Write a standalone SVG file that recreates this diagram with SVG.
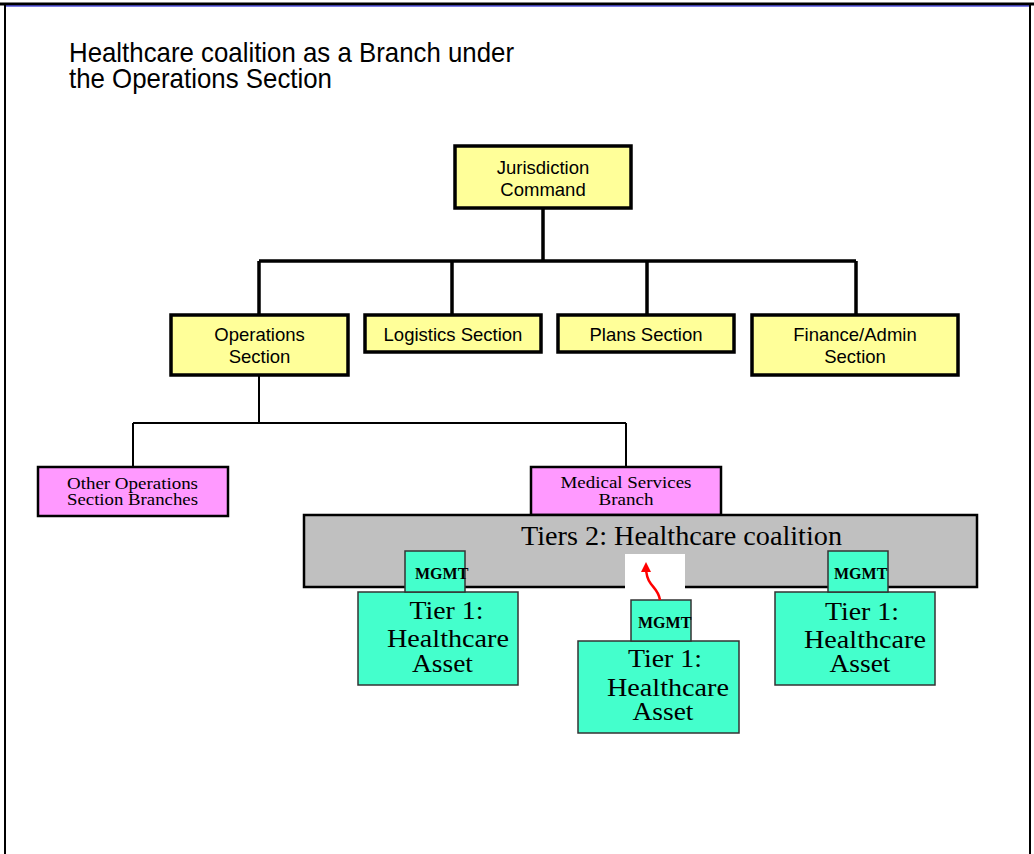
<svg xmlns="http://www.w3.org/2000/svg" width="1034" height="854" viewBox="0 0 1034 854">
  <style>
    .sans { font-family: "Liberation Sans", Arial, sans-serif; fill: #000; }
    .serif { font-family: "Liberation Serif", "Times New Roman", serif; fill: #000; }
    .yellow { fill: #FFFF99; stroke: #000; stroke-width: 3.5; }
    .pink { fill: #FF99FF; stroke: #000; stroke-width: 2.5; }
    .grey { fill: #C0C0C0; stroke: #000; stroke-width: 2.5; }
    .teal { fill: #44FFCC; stroke: #333; stroke-width: 1.5; }
    .sec { font-size: 18.5px; text-anchor: middle; }
    .br { font-size: 17px; text-anchor: middle; }
    .tier { font-size: 26px; text-anchor: middle; }
    .mgmt { font-size: 16px; font-weight: bold; }
    .thick { fill: none; stroke: #000; stroke-width: 3.5; }
    .thin { fill: none; stroke: #000; stroke-width: 2; }
  </style>
  <defs>
    <marker id="redHead" viewBox="0 0 10 10" refX="5" refY="5" markerWidth="4" markerHeight="4" orient="auto-start-reverse">
      <path d="M0,0 L10,5 L0,10 z" fill="#FF0000"/>
    </marker>
  </defs>

  <!-- page frame -->
  <rect x="0" y="0" width="1034" height="854" fill="#FFFFFF"/>
  <g id="frame">
    <line x1="0" y1="4" x2="1034" y2="4" stroke="#000" stroke-width="3"/>
    <line x1="5" y1="6" x2="1030" y2="6" stroke="#0000CC" stroke-width="1"/>
    <line x1="5" y1="4" x2="5" y2="854" stroke="#000" stroke-width="2"/>
    <line x1="1030" y1="4" x2="1030" y2="854" stroke="#000" stroke-width="2"/>
  </g>

  <!-- heading -->
  <g id="title" class="sans" font-size="28">
    <text x="69" y="62" textLength="445" lengthAdjust="spacingAndGlyphs">Healthcare coalition as a Branch under</text>
    <text x="69" y="88" textLength="263" lengthAdjust="spacingAndGlyphs">the Operations Section</text>
  </g>

  <!-- connectors -->
  <g id="connectors">
    <path class="thick" d="M543,209 V261 M259,261 H856 M259,261 V315 M452,261 V315 M647,261 V315 M856,261 V315"/>
    <path class="thin" d="M259,376 V423 M133,423 H626 M133,423 V467 M626,423 V467"/>
  </g>

  <!-- command level -->
  <g id="jurisdiction-command">
    <rect class="yellow" x="455" y="146" width="176" height="62"/>
    <text class="sans sec" x="543" y="174">Jurisdiction</text>
    <text class="sans sec" x="543" y="196">Command</text>
  </g>

  <!-- sections -->
  <g id="operations-section">
    <rect class="yellow" x="171" y="315" width="177" height="60"/>
    <text class="sans sec" x="259.5" y="341">Operations</text>
    <text class="sans sec" x="259.5" y="363">Section</text>
  </g>
  <g id="logistics-section">
    <rect class="yellow" x="365" y="315" width="176" height="37"/>
    <text class="sans sec" x="453" y="341">Logistics Section</text>
  </g>
  <g id="plans-section">
    <rect class="yellow" x="558" y="315" width="176" height="37"/>
    <text class="sans sec" x="646" y="341">Plans Section</text>
  </g>
  <g id="finance-admin-section">
    <rect class="yellow" x="752" y="315" width="206" height="60"/>
    <text class="sans sec" x="855" y="341">Finance/Admin</text>
    <text class="sans sec" x="855" y="363">Section</text>
  </g>

  <!-- branches -->
  <g id="other-operations-branches">
    <rect class="pink" x="38" y="467" width="190" height="49"/>
    <text class="serif br" x="132.5" y="489" textLength="131" lengthAdjust="spacingAndGlyphs">Other Operations</text>
    <text class="serif br" x="132.5" y="505" textLength="131" lengthAdjust="spacingAndGlyphs">Section Branches</text>
  </g>
  <g id="medical-services-branch">
    <rect class="pink" x="531" y="467" width="190" height="48"/>
    <text class="serif br" x="626" y="488" textLength="131" lengthAdjust="spacingAndGlyphs">Medical Services</text>
    <text class="serif br" x="626" y="505" textLength="55" lengthAdjust="spacingAndGlyphs">Branch</text>
  </g>

  <!-- tier 2 coalition -->
  <g id="healthcare-coalition">
    <rect class="grey" x="304" y="515" width="673" height="72"/>
    <text class="serif" x="521" y="545" font-size="27.5" textLength="321" lengthAdjust="spacingAndGlyphs">Tiers 2: Healthcare coalition</text>
  </g>

  <!-- tier 1 assets -->
  <g id="asset-left">
    <rect class="teal" x="358" y="592" width="160" height="93"/>
    <text class="serif tier" x="446.5" y="619" textLength="74" lengthAdjust="spacingAndGlyphs">Tier 1:</text>
    <text class="serif tier" x="448" y="647" textLength="122" lengthAdjust="spacingAndGlyphs">Healthcare</text>
    <text class="serif tier" x="442.5" y="672" textLength="61" lengthAdjust="spacingAndGlyphs">Asset</text>
  </g>
  <g id="mgmt-left">
    <rect class="teal" x="405" y="551" width="60" height="41"/>
    <text class="serif mgmt" x="415" y="579">MGMT</text>
  </g>

  <g id="link-gap">
    <rect x="625" y="554" width="60" height="35" fill="#FFFFFF"/>
  </g>

  <g id="asset-middle">
    <rect class="teal" x="578" y="641" width="161" height="92"/>
    <text class="serif tier" x="665" y="667" textLength="74" lengthAdjust="spacingAndGlyphs">Tier 1:</text>
    <text class="serif tier" x="668" y="696" textLength="122" lengthAdjust="spacingAndGlyphs">Healthcare</text>
    <text class="serif tier" x="663" y="720" textLength="61" lengthAdjust="spacingAndGlyphs">Asset</text>
  </g>
  <g id="mgmt-middle">
    <rect class="teal" x="631" y="600" width="60" height="41"/>
    <text class="serif mgmt" x="638" y="628">MGMT</text>
  </g>

  <g id="asset-right">
    <rect class="teal" x="775" y="592" width="160" height="93"/>
    <text class="serif tier" x="862" y="620" textLength="74" lengthAdjust="spacingAndGlyphs">Tier 1:</text>
    <text class="serif tier" x="865" y="648" textLength="122" lengthAdjust="spacingAndGlyphs">Healthcare</text>
    <text class="serif tier" x="860" y="672" textLength="61" lengthAdjust="spacingAndGlyphs">Asset</text>
  </g>
  <g id="mgmt-right">
    <rect class="teal" x="828" y="551" width="60" height="41"/>
    <text class="serif mgmt" x="834" y="579">MGMT</text>
  </g>

  <!-- reporting link from middle asset up to the coalition -->
  <g id="report-arrow">
    <path d="M660,600 C659,592 654,588 651,584 C647,579 646,574 646,567" fill="none" stroke="#FF0000" stroke-width="2.5" marker-end="url(#redHead)"/>
  </g>
</svg>
